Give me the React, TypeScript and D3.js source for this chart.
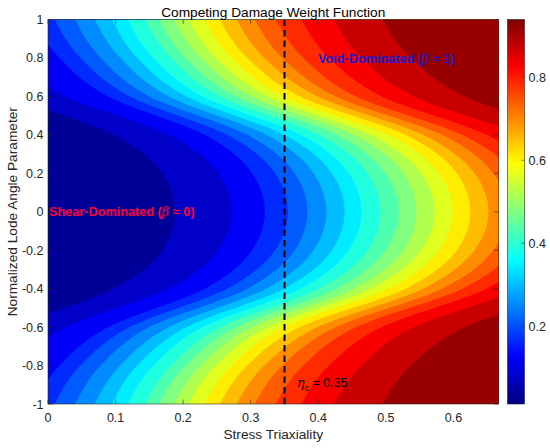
import * as d3 from 'd3';

// value range of the weight function (colorbar limits)
const betaMin = 0.013;
const betaMax = 0.939;

// filled contour levels
const levels = [
  0.057, 0.101, 0.145, 0.189, 0.233, 0.278, 0.322, 0.366, 0.41, 0.454,
  0.498, 0.542, 0.586, 0.63, 0.674, 0.719, 0.763, 0.807, 0.851, 0.895,
];

// Lode parameter rows where the contour crossings were read
const lodeRows = [-1, -0.8, -0.6, -0.4, -0.2, 0, 0.2, 0.4, 0.6, 0.8, 1];

// stress triaxiality of each contour line at every Lode row (one line per level)
const contourEta = [
  [-0.16, -0.121, -0.048, 0.097, 0.169, 0.188, 0.169, 0.097, -0.048, -0.121, -0.16],
  [-0.09, -0.05, 0.026, 0.178, 0.252, 0.272, 0.252, 0.178, 0.026, -0.05, -0.09],
  [-0.021, 0.017, 0.089, 0.232, 0.302, 0.321, 0.302, 0.232, 0.089, 0.017, -0.021],
  [0.01, 0.048, 0.121, 0.265, 0.336, 0.355, 0.336, 0.265, 0.121, 0.048, 0.01],
  [0.04, 0.078, 0.15, 0.295, 0.365, 0.384, 0.365, 0.295, 0.15, 0.078, 0.04],
  [0.069, 0.107, 0.179, 0.323, 0.393, 0.412, 0.393, 0.323, 0.179, 0.107, 0.069],
  [0.095, 0.132, 0.205, 0.349, 0.42, 0.439, 0.42, 0.349, 0.205, 0.132, 0.095],
  [0.118, 0.156, 0.229, 0.374, 0.445, 0.464, 0.445, 0.374, 0.229, 0.156, 0.118],
  [0.143, 0.182, 0.255, 0.401, 0.473, 0.492, 0.473, 0.401, 0.255, 0.182, 0.143],
  [0.164, 0.203, 0.278, 0.427, 0.499, 0.519, 0.499, 0.427, 0.278, 0.203, 0.164],
  [0.186, 0.226, 0.301, 0.452, 0.526, 0.545, 0.526, 0.452, 0.301, 0.226, 0.186],
  [0.208, 0.248, 0.325, 0.477, 0.552, 0.572, 0.552, 0.477, 0.325, 0.248, 0.208],
  [0.231, 0.271, 0.348, 0.503, 0.578, 0.599, 0.578, 0.503, 0.348, 0.271, 0.231],
  [0.254, 0.295, 0.373, 0.529, 0.605, 0.625, 0.605, 0.529, 0.373, 0.295, 0.254],
  [0.279, 0.32, 0.399, 0.555, 0.631, 0.652, 0.631, 0.555, 0.399, 0.32, 0.279],
  [0.306, 0.347, 0.426, 0.583, 0.659, 0.68, 0.659, 0.583, 0.426, 0.347, 0.306],
  [0.337, 0.378, 0.456, 0.613, 0.689, 0.71, 0.689, 0.613, 0.456, 0.378, 0.337],
  [0.375, 0.416, 0.494, 0.649, 0.725, 0.745, 0.725, 0.649, 0.494, 0.416, 0.375],
  [0.423, 0.464, 0.541, 0.697, 0.773, 0.794, 0.773, 0.697, 0.541, 0.464, 0.423],
  [0.495, 0.537, 0.617, 0.776, 0.854, 0.875, 0.854, 0.776, 0.617, 0.537, 0.495],
];

const xTicks = [0, 0.1, 0.2, 0.3, 0.4, 0.5, 0.6];
const yTicks = [-1, -0.8, -0.6, -0.4, -0.2, 0, 0.2, 0.4, 0.6, 0.8, 1];
const cbTicks = [0.2, 0.4, 0.6, 0.8];
const etaMax = 0.6667;
const etaCritical = 0.35;

// jet colormap
const jetStops = [0, 0.125, 0.375, 0.625, 0.875, 1];
const jetColors = ['#000080', '#0000ff', '#00ffff', '#ffff00', '#ff0000', '#800000'];

const W = 550;
const H = 448;
const plot = { left: 48, right: 498.5, top: 19.5, bottom: 404 };
const cb = { left: 507.5, right: 524.5 };
const axisColor = '#262626';
const font = "'Liberation Sans', Arial, Helvetica, sans-serif";
const tickFont = 12.5;
const labelFont = 13.7;

const App = () => {
  const xScale = d3.scaleLinear().domain([0, etaMax]).range([plot.left, plot.right]);
  const yScale = d3.scaleLinear().domain([-1, 1]).range([plot.bottom, plot.top]);
  const cbScale = d3.scaleLinear().domain([betaMin, betaMax]).range([plot.bottom, plot.top]);

  const jet = d3
    .scaleLinear<string>()
    .domain(jetStops)
    .range(jetColors)
    .interpolate(d3.interpolateRgb);
  const toUnit = d3.scaleLinear().domain([betaMin, betaMax]).range([0, 1]);

  const bounds = [betaMin, ...levels, betaMax];
  const bandColors = d3.range(bounds.length - 1).map(i => jet(toUnit((bounds[i] + bounds[i + 1]) / 2)));

  const area = d3
    .area<number>()
    .y((_, j) => yScale(lodeRows[j]))
    .x0(d => xScale(d))
    .x1(xScale(1.5))
    .curve(d3.curveMonotoneY);

  const tickLen = 4.5;

  return (
    <svg
      width={W}
      height={H}
      viewBox={`0 0 ${W} ${H}`}
      style={{ position: 'absolute', left: 0, top: 0, background: '#fff' }}
      fontFamily={font}
    >
      <defs>
        <clipPath id="plot-clip">
          <rect x={plot.left} y={plot.top} width={plot.right - plot.left} height={plot.bottom - plot.top} />
        </clipPath>
        <linearGradient id="jet-grad" x1="0" y1="1" x2="0" y2="0">
          {jetStops.map((s, i) => (
            <stop key={i} offset={s} stopColor={jetColors[i]} />
          ))}
        </linearGradient>
      </defs>

      <g clipPath="url(#plot-clip)">
        <rect
          x={plot.left}
          y={plot.top}
          width={plot.right - plot.left}
          height={plot.bottom - plot.top}
          fill={bandColors[0]}
        />
        {contourEta.map((line, i) => (
          <path key={i} d={area(line) || ''} fill={bandColors[i + 1]} />
        ))}
        <line
          x1={xScale(etaCritical)}
          x2={xScale(etaCritical)}
          y1={plot.top}
          y2={plot.bottom}
          stroke="#000"
          strokeWidth={2}
          strokeDasharray="6.5,4"
        />
      </g>

      {/* axes box and ticks */}
      <rect
        x={plot.left}
        y={plot.top}
        width={plot.right - plot.left}
        height={plot.bottom - plot.top}
        fill="none"
        stroke={axisColor}
        strokeWidth={0.6}
      />
      {xTicks.map(t => (
        <g key={t}>
          <line x1={xScale(t)} x2={xScale(t)} y1={plot.bottom} y2={plot.bottom - tickLen} stroke={axisColor} strokeWidth={0.6} />
          <line x1={xScale(t)} x2={xScale(t)} y1={plot.top} y2={plot.top + tickLen} stroke={axisColor} strokeWidth={0.6} />
          <text x={xScale(t)} y={plot.bottom + 17.5} textAnchor="middle" fontSize={tickFont} fill={axisColor}>
            {t}
          </text>
        </g>
      ))}
      {yTicks.map(t => (
        <g key={t}>
          <line x1={plot.left} x2={plot.left + tickLen} y1={yScale(t)} y2={yScale(t)} stroke={axisColor} strokeWidth={0.6} />
          <line x1={plot.right} x2={plot.right - tickLen} y1={yScale(t)} y2={yScale(t)} stroke={axisColor} strokeWidth={0.6} />
          <text x={43.5} y={yScale(t)} dy="0.36em" textAnchor="end" fontSize={tickFont} fill={axisColor}>
            {t}
          </text>
        </g>
      ))}

      <text x={(plot.left + plot.right) / 2} y={16.5} textAnchor="middle" fontSize={labelFont} fill="#000">
        Competing Damage Weight Function
      </text>
      <text x={(plot.left + plot.right) / 2} y={439} textAnchor="middle" fontSize={labelFont} fill={axisColor}>
        Stress Triaxiality
      </text>
      <text
        transform={`translate(17, ${(plot.top + plot.bottom) / 2}) rotate(-90)`}
        textAnchor="middle"
        fontSize={labelFont}
        fill={axisColor}
      >
        Normalized Lode Angle Parameter
      </text>

      {/* annotations */}
      <text x={49} y={yScale(0)} dy="0.36em" fontSize={12.7} fontWeight="bold" fill="#ff0033">
        Shear-Dominated (
        <tspan fontFamily="'DejaVu Serif', serif" fontStyle="italic" fontWeight="normal">β</tspan>
        {' ≈ 0)'}
      </text>
      <text x={318} y={yScale(0.8)} dy="0.36em" fontSize={12.7} fontWeight="bold" fill="#1a1acc">
        Void-Dominated (
        <tspan fontFamily="'DejaVu Serif', serif" fontStyle="italic" fontWeight="normal">β</tspan>
        {' ≈ 1)'}
      </text>
      <text x={297} y={387} fontSize={12.5} fill="#000">
        <tspan fontFamily="'DejaVu Serif', serif" fontStyle="italic">η</tspan>
        <tspan dy={3.5} fontSize={9}>c</tspan>
        <tspan dy={-3.5}> = 0.35</tspan>
      </text>

      {/* colorbar */}
      <rect
        x={cb.left}
        y={plot.top}
        width={cb.right - cb.left}
        height={plot.bottom - plot.top}
        fill="url(#jet-grad)"
        stroke={axisColor}
        strokeWidth={0.6}
      />
      {cbTicks.map(t => (
        <g key={t}>
          <line x1={cb.right} x2={cb.right - 3} y1={cbScale(t)} y2={cbScale(t)} stroke={axisColor} strokeWidth={0.6} />
          <text x={cb.right + 4} y={cbScale(t)} dy="0.36em" fontSize={tickFont} fill={axisColor}>
            {t}
          </text>
        </g>
      ))}
    </svg>
  );
};

export default App;
